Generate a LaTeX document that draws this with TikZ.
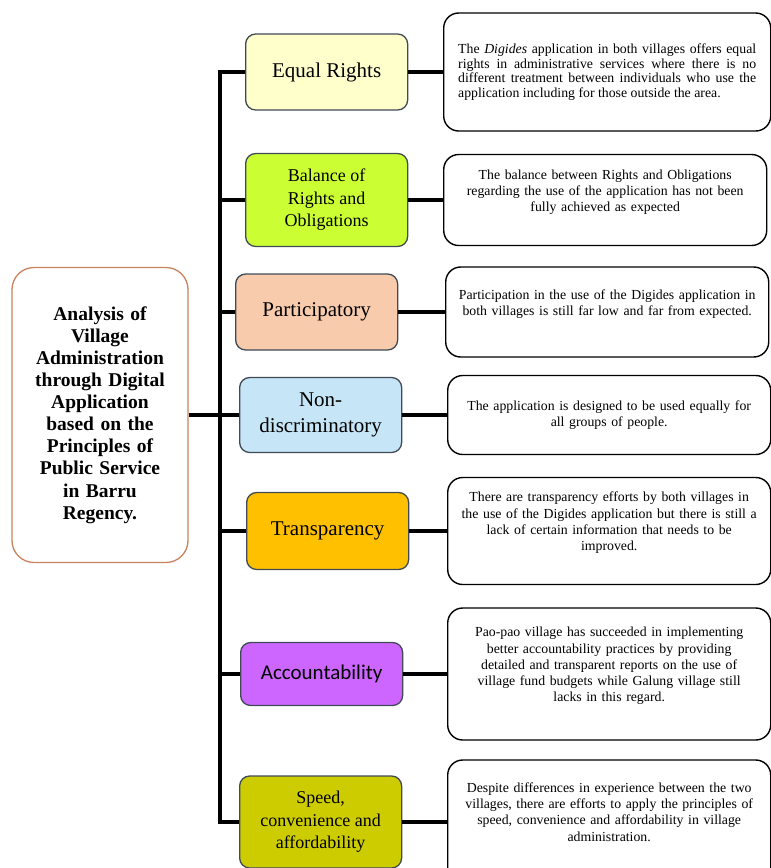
\documentclass[tikz,border=0pt]{standalone}
\usepackage{fontspec}
\setmainfont{Liberation Serif}
\newfontfamily\calibrifont{Carlito}
\usetikzlibrary{positioning}
\definecolor{ercol}{HTML}{FFFFCC}
\definecolor{balcol}{HTML}{CCFF33}
\definecolor{parcol}{HTML}{F8CBAD}
\definecolor{ndcol}{HTML}{C6E5F6}
\definecolor{trcol}{HTML}{FFC000}
\definecolor{acccol}{HTML}{CC66FF}
\definecolor{spdcol}{HTML}{CCCC00}
\definecolor{edgegray}{HTML}{3F4A55}
\definecolor{mainedge}{HTML}{C8835E}

\begin{document}
\begin{tikzpicture}[x=1pt,y=-1pt,
  mainbox/.style={draw=mainedge,line width=1.3pt,rounded corners=22pt,fill=white,
    align=center,text width=160pt,minimum width=176pt,minimum height=295pt,
    font=\fontsize{19.5}{22.1}\selectfont\bfseries},
  mid/.style={draw=edgegray,line width=1.3pt,rounded corners=10pt,anchor=west,
    align=center,inner sep=2pt,minimum width=162pt,font=\fontsize{21}{26.5}\selectfont},
  midsmall/.style={mid,font=\fontsize{18}{22.5}\selectfont},
  desc/.style={draw=black,line width=1.4pt,rounded corners=15pt,fill=white,anchor=west,
    align=center,text width=305pt,inner xsep=9pt,font=\fontsize{13.8}{16.3}\selectfont},
  descup/.style={desc,execute at end node={\endgraf\vspace*{#1}}},
  descup/.default=16pt,
  conn/.style={line width=4pt}]
\useasboundingbox (0,0) rectangle (771,868);

\node[mainbox] (main) at (100,415) {Analysis of\\Village\\Administration\\through Digital\\Application\\based on the\\Principles of\\Public Service\\in Barru\\Regency.};

\node[mid,fill=ercol,minimum height=76pt] (er) at (245,72) {Equal Rights};
\node[midsmall,fill=balcol,minimum height=93pt] (bal) at (245,200) {Balance of\\Rights and\\Obligations};
\node[mid,fill=parcol,minimum height=76pt] (par) at (235,312) {Participatory};
\node[mid,fill=ndcol,minimum height=75pt] (nd) at (239,415) {Non-\\discriminatory};
\node[mid,fill=trcol,minimum height=77pt] (tr) at (246,531) {Transparency};
\node[mid,fill=acccol,minimum height=63pt,font=\fontsize{21}{26}\calibrifont] (acc) at (240,674) {Accountability};
\node[midsmall,fill=spdcol,minimum height=92pt] (spd) at (239,822) {Speed,\\convenience and\\affordability};

\node[desc,align=justify,text width=298pt,inner xsep=14.5pt,minimum height=118pt,
  font=\fontsize{13.8}{14.7}\selectfont] (rer) at (443,72) {The \textit{Digides} application in both villages offers equal\linebreak rights in administrative services where there is no\linebreak different treatment between individuals who use the\linebreak application including for those outside the area.};
\node[descup,minimum height=91pt] (rbal) at (443,200) {The balance between Rights and Obligations\\regarding the use of the application has not been\\fully achieved as expected};
\node[descup,minimum height=90pt] (rpar) at (445,312) {Participation in the use of the Digides application in\\both villages is still far low and far from expected.};
\node[desc,minimum height=79pt] (rnd) at (447,415) {The application is designed to be used equally for\\all groups of people.};
\node[descup,minimum height=107pt] (rtr) at (447,531) {There are transparency efforts by both villages in\\the use of the Digides application but there is still a\\lack of certain information that needs to be\\improved.};
\node[descup,minimum height=132pt] (racc) at (447,674) {Pao-pao village has succeeded in implementing\\better accountability practices by providing\\detailed and transparent reports on the use of\\village fund budgets while Galung village still\\lacks in this regard.};
\node[descup=20pt,minimum height=124pt] (rspd) at (447,822) {Despite differences in experience between the two\\villages, there are efforts to apply the principles of\\speed, convenience and affordability in village\\administration.};

\path (er.west) ++(-25,0) coordinate (bustop);
\path (spd.west) ++(-19,0) coordinate (busbot);
\draw[conn] (er.west) -- (bustop) -- (busbot) -- (spd.west);
\foreach \n in {bal,par,tr,acc}
  \draw[conn] (\n.west) -- (\n.west -| bustop);
\draw[conn] (main.east) -- (nd.west);
\foreach \n in {er,bal,par,nd,tr,acc,spd}
  \draw[conn] (\n.east) -- (r\n.west);
\end{tikzpicture}
\end{document}
